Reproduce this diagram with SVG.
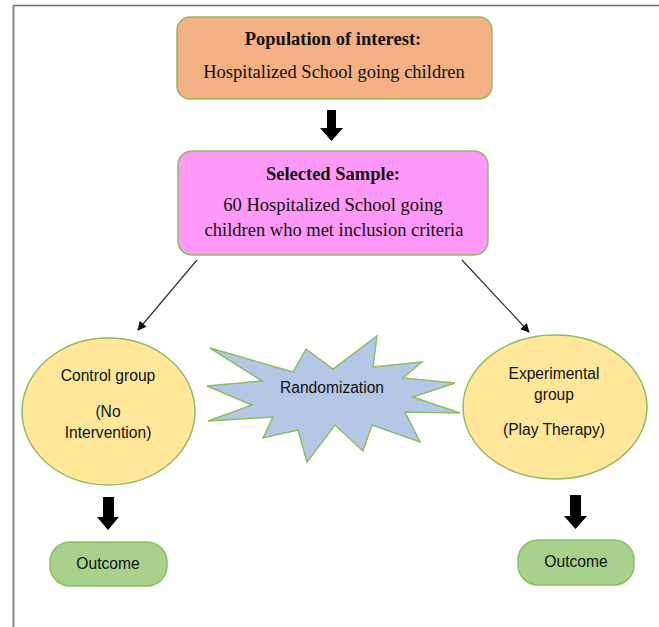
<svg xmlns="http://www.w3.org/2000/svg" width="659" height="627" viewBox="0 0 659 627">
<defs>
<style>
.serif{font-family:"Liberation Serif","Times New Roman",serif;font-size:18.5px;fill:#111;text-anchor:middle}
.b{font-weight:bold}
.sans{font-family:"Liberation Sans",Arial,sans-serif;font-size:15.6px;fill:#111;text-anchor:middle}
.gs{stroke:#8DBE62;stroke-width:1.5}
.conn{stroke:#333;stroke-width:1.2;fill:none}
.blk{fill:#000}
</style>
<marker id="ah" viewBox="0 0 10 10" refX="9" refY="5" markerWidth="10" markerHeight="9" markerUnits="userSpaceOnUse" orient="auto">
<path d="M0,0 L10,5 L0,10 z" fill="#111"/>
</marker>
</defs>
<rect width="659" height="627" fill="#fff"/>
<line x1="13" y1="5.5" x2="659" y2="5.5" stroke="#666" stroke-width="1.5"/>
<line x1="13.5" y1="5" x2="13.5" y2="627" stroke="#888" stroke-width="2"/>

<g id="population">
<rect x="177" y="17" width="315" height="82" rx="13" fill="#F4B183" class="gs"/>
<text class="serif b" x="333" y="45">Population of interest:</text>
<text class="serif" x="334" y="78">Hospitalized School going children</text>
</g>

<g id="sample">
<rect x="178" y="151" width="310" height="104" rx="14" fill="#FF99F8" class="gs"/>
<text class="serif b" x="333" y="180">Selected Sample:</text>
<text class="serif" x="333" y="211">60 Hospitalized School going</text>
<text class="serif" x="334" y="236">children who met inclusion criteria</text>
</g>

<g id="control">
<ellipse cx="108.5" cy="411.5" rx="86.5" ry="73.5" fill="#FFE699" class="gs"/>
<text class="sans" x="108" y="381">Control group</text>
<text class="sans" x="108" y="417">(No</text>
<text class="sans" x="108" y="438">Intervention)</text>
</g>

<g id="randomization">
<polygon points="210,348 293,372 306,349 333,369 377,336 373,367 422,362 403,378 455,383 413,397 460,413 405,412 420,442 372,425 363,451 335,425 307,462 298,430 263,438 273,417 208,421 252,405 207,386 262,381" fill="#B4C7E7" class="gs"/>
<text class="sans" x="332" y="393">Randomization</text>
</g>

<g id="experimental">
<ellipse cx="555" cy="407" rx="92" ry="72" fill="#FFE699" class="gs"/>
<text class="sans" x="554" y="379">Experimental</text>
<text class="sans" x="554" y="400">group</text>
<text class="sans" x="554" y="435">(Play Therapy)</text>
</g>

<g id="outcome-left">
<rect x="50" y="542" width="117" height="44" rx="20" fill="#A9D18E" class="gs"/>
<text class="sans" x="108" y="569">Outcome</text>
</g>

<g id="outcome-right">
<rect x="518" y="540" width="116" height="45" rx="20" fill="#A9D18E" class="gs"/>
<text class="sans" x="576" y="567">Outcome</text>
</g>

<g id="connectors">
<line class="conn" x1="197" y1="260" x2="138" y2="330" marker-end="url(#ah)"/>
<line class="conn" x1="462" y1="260" x2="529" y2="332" marker-end="url(#ah)"/>
<polygon class="blk" points="327,110 336,110 336,128 343,128 331.5,141 320,128 327,128"/>
<polygon class="blk" points="103,497 114,497 114,517 119,517 108,530 97,517 103,517"/>
<polygon class="blk" points="570,495 581,495 581,516 587,516 575.5,529 564,516 570,516"/>
</g>
</svg>
